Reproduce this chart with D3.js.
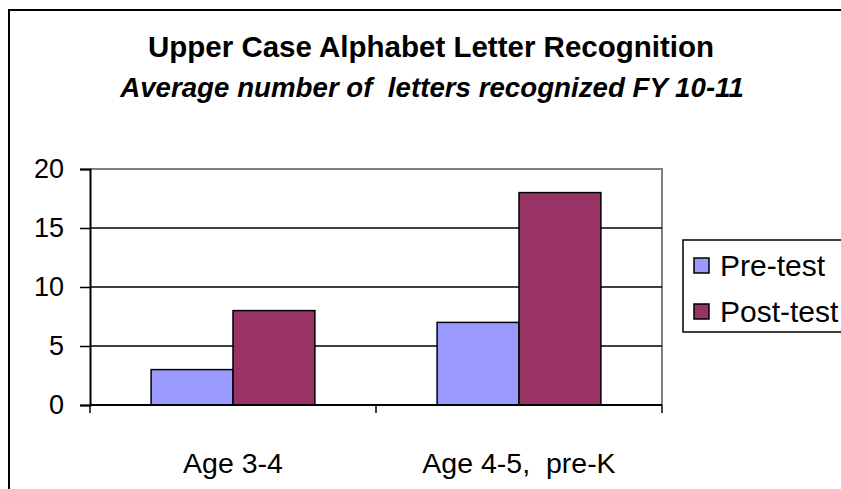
<!DOCTYPE html>
<html>
<head>
<meta charset="utf-8">
<script src="https://cdn.jsdelivr.net/npm/d3@7"></script>
<style>
  html, body { margin: 0; padding: 0; background: #fff; overflow: hidden; }
  svg { display: block; overflow: hidden; }
  text { font-family: Arial, "Liberation Sans", sans-serif; fill: #000; }
</style>
</head>
<body>
<svg id="chart" width="841" height="489"></svg>
<script>
const titleLines = ["Upper Case Alphabet Letter Recognition", "Average number of  letters recognized FY 10-11"];
const categories = ["Age 3-4", "Age 4-5,  pre-K"];
const seriesNames = ["Pre-test", "Post-test"];
const preTest = [3, 7];
const postTest = [8, 18];
const yTicks = [0, 5, 10, 15, 20];
const colors = ["#9999FF", "#993366"];

const svg = d3.select("#chart");

// chart area border: only left and top edges are within the frame
svg.append("path").attr("d", "M9,600V10H900")
  .attr("fill", "none").attr("stroke", "#000").attr("stroke-width", 2);

// title
svg.append("text").attr("x", 431).attr("y", 57).attr("text-anchor", "middle")
  .attr("font-size", 29.5).attr("font-weight", "bold").style("white-space", "pre")
  .text(titleLines[0]);
svg.append("text").attr("x", 432).attr("y", 97).attr("text-anchor", "middle")
  .attr("font-size", 27.7).attr("font-weight", "bold").attr("font-style", "italic").style("white-space", "pre")
  .text(titleLines[1]);

const plot = { left: 90, right: 662, top: 169, bottom: 405 };

const x0 = d3.scaleBand().domain(categories).range([plot.left, plot.right]).paddingInner(0).paddingOuter(0);
const x1 = d3.scaleBand().domain(seriesNames).range([0, x0.bandwidth()]).paddingInner(0).paddingOuter(0.746);
const y = d3.scaleLinear().domain([0, 20]).range([plot.bottom, plot.top]);

const g = svg.append("g");

// plot area border (grey top & right)
g.append("path")
  .attr("d", `M${plot.left},${plot.top}H${plot.right}V${plot.bottom}`)
  .attr("fill", "none").attr("stroke", "#808080").attr("stroke-width", 2);

// gridlines
g.selectAll("line.grid").data(yTicks.filter(v => v > 0 && v < 20)).enter().append("line")
  .attr("class", "grid")
  .attr("x1", plot.left).attr("x2", plot.right)
  .attr("y1", d => y(d)).attr("y2", d => y(d))
  .attr("stroke", "#000").attr("stroke-width", 1.5);

// bars
const data = categories.map((c, i) => ({ cat: c, vals: [preTest[i], postTest[i]] }));
const groups = g.selectAll("g.cat").data(data).enter().append("g")
  .attr("transform", d => `translate(${x0(d.cat)},0)`);
groups.selectAll("rect").data(d => d.vals.map((v, j) => ({ s: seriesNames[j], v, j }))).enter().append("rect")
  .attr("x", d => x1(d.s)).attr("width", x1.bandwidth())
  .attr("y", d => y(d.v)).attr("height", d => y(0) - y(d.v))
  .attr("fill", d => colors[d.j]).attr("stroke", "#000").attr("stroke-width", 1.5);

// y axis
const yAxis = d3.axisLeft(y).tickValues(yTicks).tickSize(10).tickPadding(16).tickFormat(d3.format("d"));
const ya = g.append("g").attr("transform", `translate(${plot.left},0)`).call(yAxis);
ya.select(".domain").attr("stroke", "#000").attr("stroke-width", 2);
ya.selectAll(".tick line").attr("stroke", "#000").attr("stroke-width", 1.5);
ya.selectAll(".tick text").attr("font-size", 27).attr("font-family", "Arial, 'Liberation Sans', sans-serif").attr("fill", "#000");

// x axis
const xa = g.append("g").attr("transform", `translate(0,${plot.bottom})`);
xa.append("line").attr("x1", plot.left).attr("x2", plot.right).attr("y1", 0).attr("y2", 0)
  .attr("stroke", "#000").attr("stroke-width", 2);
const boundaries = categories.map(c => x0(c)).concat([x0(categories[categories.length - 1]) + x0.bandwidth()]);
xa.selectAll("line.tk").data(boundaries).enter().append("line")
  .attr("x1", d => d).attr("x2", d => d).attr("y1", 0).attr("y2", 8)
  .attr("stroke", "#000").attr("stroke-width", 1.5);
xa.selectAll("text.cl").data(categories).enter().append("text")
  .attr("x", d => x0(d) + x0.bandwidth() / 2).attr("y", 68)
  .attr("text-anchor", "middle").attr("font-size", 28.5).style("white-space", "pre")
  .text(d => d);

// legend (box runs past the right edge of the frame)
const lg = svg.append("g");
lg.append("path").attr("d", "M900,240H683V332H900")
  .attr("fill", "#fff").attr("stroke", "#000").attr("stroke-width", 1.5);
const items = lg.selectAll("g.item").data(seriesNames).enter().append("g")
  .attr("transform", (d, i) => `translate(0,${i * 46})`);
items.append("rect").attr("x", 694).attr("y", 258).attr("width", 15).attr("height", 15)
  .attr("fill", (d, i) => colors[i]).attr("stroke", "#000").attr("stroke-width", 1.5);
items.append("text").attr("x", 720).attr("y", 276).attr("font-size", 30).text(d => d);
</script>
</body>
</html>
